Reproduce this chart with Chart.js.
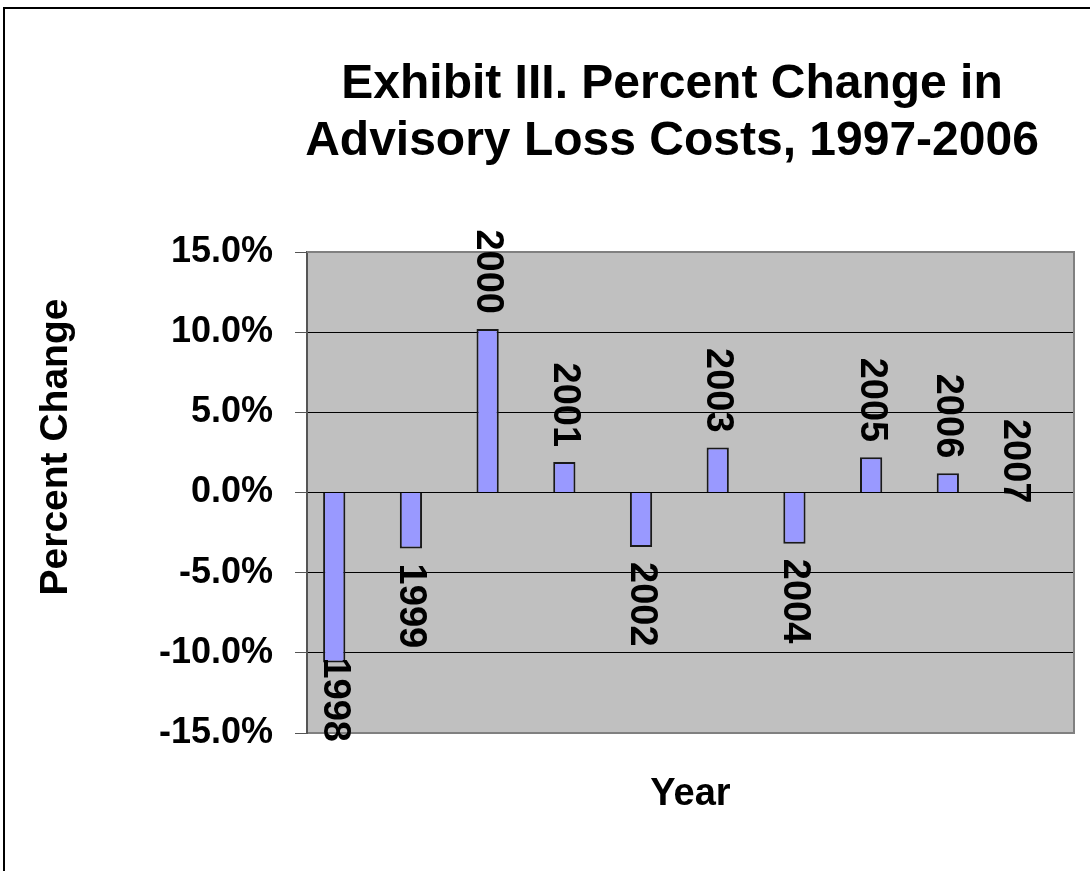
<!DOCTYPE html>
<html>
<head>
<meta charset="utf-8">
<script src="https://cdn.jsdelivr.net/npm/chart.js@4.4.1/dist/chart.umd.min.js"></script>
<style>
  html, body { margin: 0; padding: 0; background: #fff; overflow: hidden; }
  canvas { position: absolute; left: 0; top: 0; }
</style>
</head>
<body>
<canvas id="lossChart" width="1344" height="1000"></canvas>
<script>
// chart data
var years = ["1998", "1999", "2000", "2001", "2002", "2003", "2004", "2005", "2006", "2007"];
var pctChange = [-10.6, -3.5, 10.2, 1.9, -3.4, 2.8, -3.2, 2.2, 1.2, 0];
// the sheet has a second (empty) series, which is why the bars sit left of centre
var emptySeries = [null, null, null, null, null, null, null, null, null, null];
var titleLines = ["Exhibit III. Percent Change in", "Advisory Loss Costs, 1997-2006"];
var yTitle = "Percent Change";
var xTitle = "Year";
var yMin = -15, yMax = 15, yStep = 5;

var FONT = "'Liberation Sans', Arial, Helvetica, sans-serif";

// background, frame, title, plot border, bar labels, axis titles
var excelLook = {
  id: 'excelLook',
  beforeDraw: function(chart) {
    var ctx = chart.ctx, a = chart.chartArea;
    ctx.save();
    ctx.fillStyle = '#fff';
    ctx.fillRect(0, 0, chart.width, chart.height);
    ctx.strokeStyle = '#000';
    ctx.lineWidth = 2;
    ctx.strokeRect(4, 8, chart.width - 8, chart.height - 16);
    ctx.fillStyle = '#c0c0c0';
    ctx.fillRect(a.left, a.top, a.right - a.left, a.bottom - a.top);
    // title
    ctx.fillStyle = '#000';
    ctx.font = 'bold 48px ' + FONT;
    ctx.textAlign = 'center';
    ctx.textBaseline = 'alphabetic';
    ctx.fillText(titleLines[0], chart.width / 2, 98);
    ctx.fillText(titleLines[1], chart.width / 2, 155);
    ctx.restore();
  },
  beforeDatasetsDraw: function(chart) {
    var ctx = chart.ctx, a = chart.chartArea;
    ctx.save();
    ctx.strokeStyle = '#808080';
    ctx.lineWidth = 2;
    ctx.beginPath();
    ctx.moveTo(a.left, a.top);
    ctx.lineTo(a.right, a.top);
    ctx.lineTo(a.right, a.bottom);
    ctx.stroke();
    ctx.restore();
  },
  afterDatasetsDraw: function(chart) {
    var ctx = chart.ctx, a = chart.chartArea;
    var meta = chart.getDatasetMeta(0);
    ctx.save();
    ctx.fillStyle = '#000';
    ctx.font = 'bold 38px ' + FONT;
    ctx.textAlign = 'left';
    ctx.textBaseline = 'middle';
    for (var i = 0; i < years.length; i++) {
      var el = meta.data[i];
      var v = pctChange[i];
      var w = ctx.measureText(years[i]).width;
      var start, x = el.x;
      if (v > 0) {
        start = el.y - 15 - w;
      } else if (v < 0) {
        start = el.y + 15;
        if (start + w > a.bottom + 9) start = a.bottom + 9 - w;
      } else {
        // zero bar: Excel puts the label across the base line
        start = el.base + 11 - w;
        x = el.x - 10;
      }
      ctx.save();
      ctx.translate(x, start);
      ctx.rotate(Math.PI / 2);
      ctx.fillText(years[i], 0, 0);
      ctx.restore();
    }
    ctx.restore();
  },
  afterDraw: function(chart) {
    var ctx = chart.ctx, a = chart.chartArea;
    ctx.save();
    ctx.fillStyle = '#000';
    ctx.font = 'bold 38px ' + FONT;
    ctx.textAlign = 'center';
    ctx.textBaseline = 'middle';
    ctx.fillText(xTitle, (a.left + a.right) / 2, a.bottom + 62);
    ctx.translate(a.left - 251, a.top + 195);
    ctx.rotate(-Math.PI / 2);
    ctx.font = 'bold 39px ' + FONT;
    ctx.fillText(yTitle, 0, 0);
    ctx.restore();
  }
};

var ctx = document.getElementById('lossChart').getContext('2d');
var lossChart = new Chart(ctx, {
  type: 'bar',
  data: {
    labels: years,
    datasets: [{
      label: 'Percent Change',
      data: pctChange,
      backgroundColor: '#9999ff',
      borderColor: '#1a1a1a',
      borderWidth: 2,
      categoryPercentage: 0.58,
      barPercentage: 1
    }, {
      label: 'Series 2',
      data: emptySeries,
      backgroundColor: '#993366',
      categoryPercentage: 0.58,
      barPercentage: 1
    }]
  },
  options: {
    responsive: false,
    animation: false,
    layout: {
      padding: { left: 100, right: 270, top: 252, bottom: 167 }
    },
    plugins: {
      legend: { display: false },
      title: { display: false },
      tooltip: { enabled: false }
    },
    scales: {
      x: {
        ticks: { display: false },
        grid: { display: false, drawTicks: false },
        border: { display: true, color: '#808080', width: 2 },
        afterFit: function(s) { s.height = 100; }
      },
      y: {
        min: yMin,
        max: yMax,
        ticks: {
          stepSize: yStep,
          color: '#000',
          padding: 22,
          font: { family: FONT, size: 36, weight: 'bold' },
          callback: function(v) { return v.toFixed(1) + '%'; }
        },
        grid: { color: '#000', lineWidth: 1, tickLength: 12, tickColor: '#555' },
        border: { display: true, color: '#555', width: 2 },
        afterFit: function(s) { s.width = 207; }
      }
    }
  },
  plugins: [excelLook]
});
</script>
</body>
</html>
